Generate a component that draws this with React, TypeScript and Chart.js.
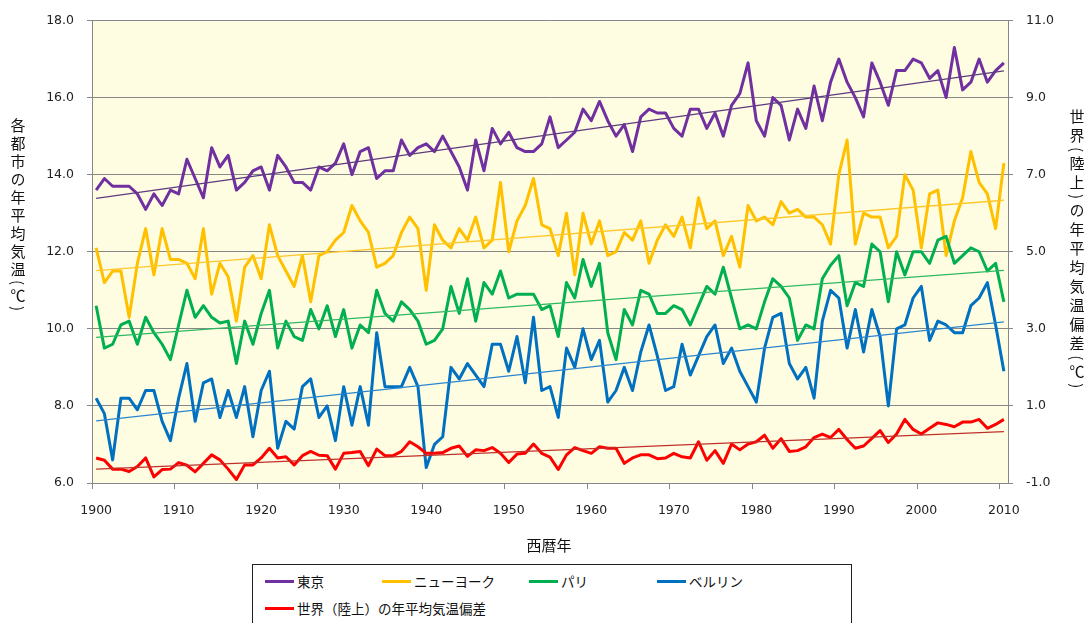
import React, { useEffect, useRef } from 'react';
import { Chart, registerables } from 'chart.js';

Chart.register(...registerables);

const startYear = 1900;
const years: number[] = Array.from({ length: 111 }, (_, i) => startYear + i);
const xTickLabels = ['1900', '1910', '1920', '1930', '1940', '1950', '1960', '1970', '1980', '1990', '2000', '2010'];

const tokyo = [
  13.6, 13.9, 13.7, 13.7, 13.7, 13.5, 13.1, 13.5, 13.2, 13.6,
  13.5, 14.4, 13.9, 13.4, 14.7, 14.2, 14.5, 13.6, 13.8, 14.1,
  14.2, 13.6, 14.5, 14.2, 13.8, 13.8, 13.6, 14.2, 14.1, 14.3,
  14.8, 14.0, 14.6, 14.7, 13.9, 14.1, 14.1, 14.9, 14.5, 14.7,
  14.8, 14.6, 15.0, 14.6, 14.2, 13.6, 14.9, 14.1, 15.2, 14.8,
  15.1, 14.7, 14.6, 14.6, 14.8, 15.5, 14.7, 14.9, 15.1, 15.7,
  15.4, 15.9, 15.4, 15.0, 15.3, 14.6, 15.5, 15.7, 15.6, 15.6,
  15.2, 15.0, 15.7, 15.7, 15.2, 15.6, 15.0, 15.8, 16.1, 16.9,
  15.4, 15.0, 16.0, 15.8, 14.9, 15.7, 15.2, 16.3, 15.4, 16.4,
  17.0, 16.4, 16.0, 15.5, 16.9, 16.4, 15.8, 16.7, 16.7, 17.0,
  16.9, 16.5, 16.7, 16.0, 17.3, 16.2, 16.4, 17.0, 16.4, 16.7,
  16.9,
];

const newYork = [
  12.1, 11.2, 11.5, 11.5, 10.3, 11.7, 12.6, 11.4, 12.6, 11.8,
  11.8, 11.7, 11.3, 12.6, 10.9, 11.7, 11.35, 10.2, 11.6, 11.9,
  11.3, 12.7, 11.9, 11.5, 11.1, 11.9, 10.7, 11.9, 12.0, 12.3,
  12.5, 13.2, 12.8, 12.5, 11.6, 11.7, 11.9, 12.5, 12.9, 12.6,
  11.0, 12.7, 12.3, 12.1, 12.6, 12.3, 12.9, 12.1, 12.3, 13.8,
  12.0, 12.8, 13.2, 13.9, 12.7, 12.6, 11.9, 13.0, 11.4, 13.0,
  12.2, 12.8, 11.9, 12.0, 12.5, 12.3, 12.8, 11.7, 12.3, 12.7,
  12.4, 12.9, 12.1, 13.4, 12.6, 12.8, 11.9, 12.4, 11.6, 13.2,
  12.8, 12.9, 12.7, 13.3, 13.0, 13.1, 12.9, 12.9, 12.7, 12.2,
  14.0, 14.9, 12.2, 13.0, 12.9, 12.9, 12.1, 12.4, 14.0, 13.6,
  12.1, 13.5, 13.6, 11.9, 12.8, 13.4, 14.6, 13.8, 13.5, 12.6,
  14.3,
];

const paris = [
  10.6, 9.5, 9.6, 10.1, 10.2, 9.6, 10.3, 9.9, 9.6, 9.2,
  10.1, 11.0, 10.3, 10.6, 10.3, 10.15, 10.2, 9.1, 10.2, 9.6,
  10.4, 11.0, 9.5, 10.2, 9.8, 9.7, 10.5, 10.0, 10.6, 9.8,
  10.5, 9.5, 10.1, 9.9, 11.0, 10.4, 10.2, 10.7, 10.5, 10.2,
  9.6, 9.7, 10.0, 11.1, 10.4, 11.3, 10.2, 11.2, 10.9, 11.5,
  10.8, 10.9, 10.9, 10.9, 10.5, 10.6, 9.8, 11.2, 10.8, 11.8,
  11.1, 11.7, 9.9, 9.2, 10.5, 10.1, 11.0, 10.9, 10.4, 10.4,
  10.6, 10.5, 10.1, 10.6, 11.1, 10.9, 11.6, 10.8, 10.0, 10.1,
  10.0, 10.7, 11.3, 11.1, 10.8, 9.7, 10.1, 10.0, 11.3, 11.65,
  11.9, 10.6, 11.2, 11.1, 12.2, 12.0, 10.7, 12.0, 11.4, 12.0,
  12.0, 11.7, 12.3, 12.4, 11.7, 11.9, 12.1, 12.0, 11.5, 11.7,
  10.7,
];

const berlin = [
  8.2, 7.8, 6.6, 8.2, 8.2, 7.9, 8.4, 8.4, 7.6, 7.1,
  8.2, 9.1, 7.6, 8.6, 8.7, 7.7, 8.4, 7.7, 8.5, 7.2,
  8.4, 8.9, 6.9, 7.6, 7.4, 8.5, 8.7, 7.7, 8.0, 7.1,
  8.5, 7.5, 8.5, 7.5, 9.9, 8.5, 8.5, 8.5, 9.0, 8.5,
  6.4, 7.0, 7.2, 9.0, 8.7, 9.1, 8.8, 8.5, 9.6, 9.6,
  8.9, 9.8, 8.6, 10.3, 8.4, 8.5, 7.7, 9.5, 9.0, 10.0,
  9.2, 9.7, 8.1, 8.4, 9.0, 8.4, 9.4, 10.1, 9.3, 8.4,
  8.5, 9.6, 8.8, 9.3, 9.8, 10.1, 9.1, 9.5, 8.9, 8.5,
  8.1, 9.5, 10.3, 10.4, 9.1, 8.7, 9.0, 8.2, 10.2, 11.0,
  10.8, 9.5, 10.5, 9.4, 10.5, 9.8, 8.0, 10.0, 10.1, 10.8,
  11.1, 9.7, 10.2, 10.1, 9.9, 9.9, 10.6, 10.8, 11.2, 10.1,
  8.9,
];

const worldLand = [
  -0.35, -0.41, -0.64, -0.64, -0.70, -0.57, -0.35, -0.84, -0.65, -0.64,
  -0.47, -0.54, -0.71, -0.49, -0.27, -0.40, -0.64, -0.91, -0.53, -0.53,
  -0.35, -0.10, -0.35, -0.32, -0.53, -0.29, -0.18, -0.28, -0.29, -0.64,
  -0.23, -0.21, -0.18, -0.55, -0.12, -0.29, -0.29, -0.18, 0.07, -0.06,
  -0.23, -0.23, -0.21, -0.10, -0.04, -0.31, -0.14, -0.16, -0.08, -0.23,
  -0.47, -0.25, -0.23, 0.01, -0.23, -0.33, -0.65, -0.27, -0.08, -0.16,
  -0.23, -0.06, -0.10, -0.10, -0.49, -0.35, -0.27, -0.27, -0.37, -0.35,
  -0.23, -0.32, -0.35, 0.07, -0.41, -0.16, -0.49, 0.01, -0.14, 0.01,
  0.07, 0.24, -0.10, 0.15, -0.18, -0.16, -0.06, 0.18, 0.27, 0.18,
  0.39, 0.13, -0.10, -0.04, 0.16, 0.36, 0.05, 0.27, 0.65, 0.39,
  0.27, 0.42, 0.56, 0.52, 0.46, 0.58, 0.58, 0.65, 0.42, 0.52,
  0.65,
];

const COLORS = {
  tokyo: '#7030A0',
  ny: '#FFC000',
  paris: '#00B050',
  berlin: '#0070C0',
  world: '#FF0000',
  tokyoTrend: '#5E3A80',
  nyTrend: '#FFC72A',
  parisTrend: '#2DB862',
  berlinTrend: '#2A85CF',
  worldTrend: '#C0302A',
  grid: '#878787',
  plotBg: '#FFFDE1',
  tick: '#222222',
};

function trendEnds(vals: number[]) {
  const n = vals.length;
  let sx = 0, sy = 0;
  for (let i = 0; i < n; i++) { sx += i; sy += vals[i]; }
  const mx = sx / n, my = sy / n;
  let num = 0, den = 0;
  for (let i = 0; i < n; i++) { num += (i - mx) * (vals[i] - my); den += (i - mx) * (i - mx); }
  const b = num / den;
  const a = my - b * mx;
  return [
    { x: String(years[0]), y: a },
    { x: String(years[n - 1]), y: a + b * (n - 1) },
  ];
}

const plotBg = {
  id: 'plotBg',
  beforeDraw(chart: any) {
    const { ctx, chartArea: a } = chart;
    ctx.save();
    ctx.fillStyle = COLORS.plotBg;
    ctx.fillRect(a.left, a.top, a.right - a.left, a.bottom - a.top);
    ctx.restore();
  },
};

const tickFont = { family: '"DejaVu Sans", sans-serif', size: 12.5 };
const jp = '"Noto Sans CJK JP", sans-serif';

function App() {
  const ref = useRef<HTMLCanvasElement | null>(null);

  useEffect(() => {
    if (!ref.current) return;
    const series = (label: string, data: number[], color: string, axis: string) => ({
      label, data, borderColor: color, backgroundColor: color, borderWidth: 3,
      pointRadius: 0, tension: 0, fill: false, yAxisID: axis, borderJoinStyle: 'round' as const,
    });
    const trend = (label: string, data: number[], color: string, axis: string) => ({
      label, data: trendEnds(data) as any, borderColor: color, backgroundColor: color, borderWidth: 1.3,
      pointRadius: 0, tension: 0, fill: false, yAxisID: axis,
    });
    const chart = new Chart(ref.current, {
      type: 'line',
      data: {
        labels: years.map(String),
        datasets: [
          trend('世界 近似', worldLand, COLORS.worldTrend, 'y2'),
          trend('ベルリン 近似', berlin, COLORS.berlinTrend, 'y'),
          trend('パリ 近似', paris, COLORS.parisTrend, 'y'),
          trend('ニューヨーク 近似', newYork, COLORS.nyTrend, 'y'),
          trend('東京 近似', tokyo, COLORS.tokyoTrend, 'y'),
          series('世界(陸上)の年平均気温偏差', worldLand, COLORS.world, 'y2'),
          series('ベルリン', berlin, COLORS.berlin, 'y'),
          series('パリ', paris, COLORS.paris, 'y'),
          series('ニューヨーク', newYork, COLORS.ny, 'y'),
          series('東京', tokyo, COLORS.tokyo, 'y'),
        ] as any,
      },
      options: {
        animation: false,
        responsive: false,
        layout: { padding: { top: 15, left: 0, right: 0, bottom: 0 } },
        plugins: { legend: { display: false }, tooltip: { enabled: false }, title: { display: false } },
        scales: {
          x: {
            type: 'category',
            offset: true,
            grid: {
              offset: true,
              drawOnChartArea: false,
              drawTicks: true,
              tickLength: 6,
              color: COLORS.grid,
              tickColor: (ctx: any) => (typeof ctx.index === 'number' && ctx.index % 10 === 0 ? COLORS.grid : 'rgba(0,0,0,0)'),
            },
            border: { color: COLORS.grid },
            ticks: {
              autoSkip: false,
              maxRotation: 0,
              minRotation: 0,
              padding: 14,
              color: COLORS.tick,
              font: tickFont,
              callback: (_v: any, i: number) => {
                const lab = String(years[i]);
                return xTickLabels.includes(lab) ? lab : '';
              },
            },
            afterFit: (s: any) => { s.height = 140; },
          },
          y: {
            position: 'left',
            min: 6,
            max: 18,
            ticks: { stepSize: 2, padding: 13, color: COLORS.tick, font: tickFont, callback: (v: any) => Number(v).toFixed(1) },
            grid: { color: COLORS.grid, tickLength: 5, tickColor: COLORS.grid },
            border: { color: COLORS.grid },
            afterFit: (s: any) => { s.width = 92; },
          },
          y2: {
            position: 'right',
            min: -1,
            max: 11,
            ticks: { stepSize: 2, padding: 13, color: COLORS.tick, font: tickFont, callback: (v: any) => Number(v).toFixed(1) },
            grid: { drawOnChartArea: false, tickLength: 5, tickColor: COLORS.grid, color: COLORS.grid },
            border: { color: COLORS.grid },
            afterFit: (s: any) => { s.width = 81; },
          },
        },
      } as any,
      plugins: [plotBg],
    });
    return () => chart.destroy();
  }, []);

  const legendItems = [
    { label: '東京', color: COLORS.tokyo, left: 265, top: 581 },
    { label: 'ニューヨーク', color: COLORS.ny, left: 382, top: 581 },
    { label: 'パリ', color: COLORS.paris, left: 529, top: 581 },
    { label: 'ベルリン', color: COLORS.berlin, left: 657, top: 581 },
    { label: '世界（陸上）の年平均気温偏差', color: COLORS.world, left: 265, top: 608 },
  ];

  return (
    <div style={{ position: 'absolute', left: 0, top: 0, width: 1089, height: 623, overflow: 'hidden', background: '#fff' }}>
      <canvas ref={ref} width={1089} height={623} style={{ display: 'block', position: 'absolute', left: 0, top: 0 }} />
      <div style={{
        position: 'absolute', left: 10.5, top: 118, writingMode: 'vertical-rl', textOrientation: 'mixed',
        fontFamily: jp, fontSize: 15, lineHeight: '15px', letterSpacing: 3, color: '#111', whiteSpace: 'nowrap',
      }}>各都市の年平均気温(℃)</div>
      <div style={{
        position: 'absolute', left: 1069.5, top: 109, writingMode: 'vertical-rl', textOrientation: 'mixed',
        fontFamily: jp, fontSize: 15, lineHeight: '15px', letterSpacing: 4, color: '#111', whiteSpace: 'nowrap',
      }}>世界(陸上)の年平均気温偏差(℃)</div>
      <div style={{
        position: 'absolute', left: 549, top: 536, transform: 'translateX(-50%)',
        fontFamily: jp, fontSize: 15, lineHeight: '18px', color: '#111', whiteSpace: 'nowrap',
      }}>西暦年</div>
      <div style={{ position: 'absolute', left: 252, top: 564, width: 600, height: 80, border: '1px solid #222', boxSizing: 'border-box', background: '#fff' }} />
      {legendItems.map((it) => (
        <div key={it.label} style={{ position: 'absolute', left: it.left, top: it.top - 9, height: 18, display: 'flex', alignItems: 'center', whiteSpace: 'nowrap' }}>
          <div style={{ width: 29, height: 3, background: it.color, marginRight: 3 }} />
          <span style={{ fontFamily: jp, fontSize: 13.5, lineHeight: '18px', color: '#111' }}>{it.label}</span>
        </div>
      ))}
    </div>
  );
}

export default App;
